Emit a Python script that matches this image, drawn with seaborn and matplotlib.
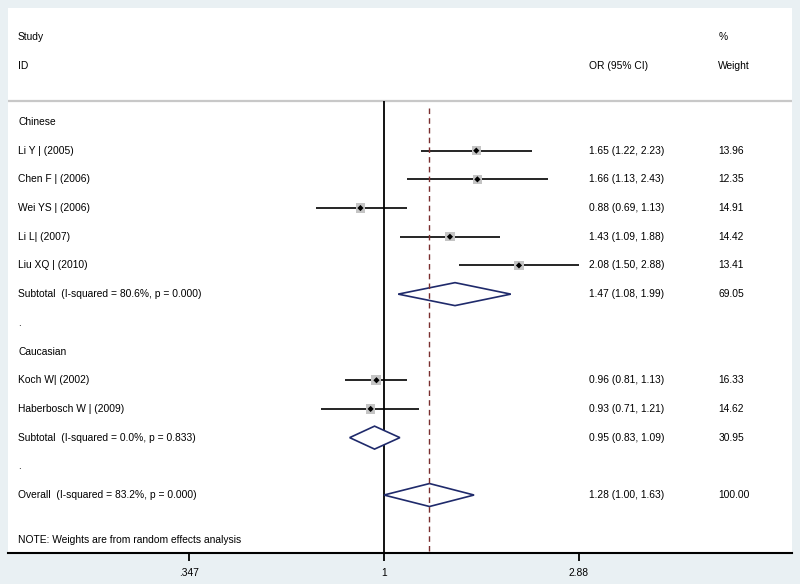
import numpy as np
import matplotlib
matplotlib.use("Agg")
import matplotlib.pyplot as plt
import matplotlib.transforms as mtransforms
import seaborn as sns

# Estudios individuales
estudios = ["Li Y | (2005)", "Chen F | (2006)", "Wei YS | (2006)", "Li L| (2007)",
            "Liu XQ | (2010)", "Koch W| (2002)", "Haberbosch W | (2009)"]
grupo_est = ["Chinese"] * 5 + ["Caucasian"] * 2
or_est = [1.65, 1.66, 0.88, 1.43, 2.08, 0.96, 0.93]
li_est = [1.22, 1.13, 0.69, 1.09, 1.50, 0.81, 0.71]
ls_est = [2.23, 2.43, 1.13, 1.88, 2.88, 1.13, 1.21]
peso_est = [13.96, 12.35, 14.91, 14.42, 13.41, 16.33, 14.62]

# Subtotales y global
grupos = ["Chinese", "Caucasian"]
resumen = ["Subtotal  (I-squared = 80.6%, p = 0.000)",
           "Subtotal  (I-squared = 0.0%, p = 0.833)",
           "Overall  (I-squared = 83.2%, p = 0.000)"]
or_res = [1.47, 0.95, 1.28]
li_res = [1.08, 0.83, 1.00]
ls_res = [1.99, 1.09, 1.63]
peso_res = [69.05, 30.95, 100.00]

nota = "NOTE: Weights are from random effects analysis"
ticks = [0.347, 1, 2.88]
tick_labels = [".347", "1", "2.88"]

# Orden de filas (estilo metan de Stata)
filas_est = []
filas_res = []
etiquetas = []   # (fila, texto)
k = 0
for g in grupos:
    etiquetas.append((k, g)); k += 1
    for gg in grupo_est:
        if gg == g:
            filas_est.append(k); k += 1
    filas_res.append(k); k += 1
    etiquetas.append((k, ".")); k += 1
filas_res.append(k)
fila_nota = k + 1.56
y_abajo = k + 2.02
y_arriba = -3.97
y_sep = -0.73

sns.set_style("white")
plt.rcParams['font.family'] = ['Liberation Sans', 'DejaVu Sans']
plt.rcParams['text.color'] = 'black'
plt.rcParams['xtick.color'] = 'black'

fig = plt.figure(figsize=(8, 5.84), dpi=100)
fig.patch.set_facecolor('#e9f0f3')
ax = fig.add_axes([8 / 800, 31 / 584, 784 / 800, 545 / 584])
ax.set_facecolor('white')
ax.set_xscale('log')
esc = 390 / (np.log(2.88) - np.log(0.347))
ax.set_xlim(np.exp((8 - 384) / esc), np.exp((792 - 384) / esc))
ax.set_ylim(y_abajo, y_arriba)

fs = 7.4
trans = mtransforms.blended_transform_factory(ax.transAxes, ax.transData)

# cabecera
ax.text(0.0128, -2.96, "Study", transform=trans, fontsize=fs, va='center')
ax.text(0.0128, -1.95, "ID", transform=trans, fontsize=fs, va='center')
ax.text(0.741, -1.95, "OR (95% CI)", transform=trans, fontsize=fs, va='center')
ax.text(0.906, -2.96, "%", transform=trans, fontsize=fs, va='center')
ax.text(0.906, -1.95, "Weight", transform=trans, fontsize=fs, va='center')
ax.axhline(y_sep, color='#c8c8c8', lw=1.6, zorder=1)

# lineas de referencia
ax.vlines(1, y_sep, y_abajo, color='black', lw=1.3, zorder=2)
ax.vlines(or_res[2], y_sep + 0.25, y_abajo, color='#7a2e2e', lw=1.0,
          linestyles=(0, (4, 3)), zorder=6)

# intervalos de estudios
ax.hlines(filas_est, li_est, ls_est, color='black', lw=1.2, zorder=3)
sns.scatterplot(x=or_est, y=filas_est, size=peso_est,
                sizes={w: 3.2 * w for w in peso_est}, marker='s',
                color='#c4c4c4', edgecolor='none', legend=False, ax=ax, zorder=4)
sns.scatterplot(x=or_est, y=filas_est, marker='D', s=10, color='black',
                edgecolor='none', legend=False, ax=ax, zorder=5)

# diamantes
h = 0.4
for r, o, l, u in zip(filas_res, or_res, li_res, ls_res):
    ax.fill([l, o, u, o, l], [r, r - h, r, r + h, r], facecolor='white',
            edgecolor='#1f2a6b', lw=1.2, zorder=4)

# columnas de texto
for r, t in etiquetas:
    ax.text(0.0128, r, t, transform=trans, fontsize=fs, va='center')
for r, t, o, l, u, w in zip(filas_est, estudios, or_est, li_est, ls_est, peso_est):
    ax.text(0.0128, r, t, transform=trans, fontsize=fs, va='center')
    ax.text(0.741, r, f"{o:.2f} ({l:.2f}, {u:.2f})", transform=trans, fontsize=fs, va='center')
    ax.text(0.906, r, f"{w:.2f}", transform=trans, fontsize=fs, va='center')
for r, t, o, l, u, w in zip(filas_res, resumen, or_res, li_res, ls_res, peso_res):
    ax.text(0.0128, r, t, transform=trans, fontsize=fs, va='center')
    ax.text(0.741, r, f"{o:.2f} ({l:.2f}, {u:.2f})", transform=trans, fontsize=fs, va='center')
    ax.text(0.906, r, f"{w:.2f}", transform=trans, fontsize=fs, va='center')
ax.text(0.0128, fila_nota, nota, transform=trans, fontsize=fs, va='center')

# eje
for s in ['top', 'left', 'right']:
    ax.spines[s].set_visible(False)
ax.spines['bottom'].set_color('black')
ax.spines['bottom'].set_linewidth(1.5)
ax.set_yticks([])
ax.set_xticks(ticks)
ax.set_xticklabels(tick_labels)
ax.minorticks_off()
ax.tick_params(axis='x', bottom=True, length=6, width=1.3, color='black',
               labelcolor='black', labelsize=fs, pad=5)

fig.savefig("out.png", dpi=100, facecolor=fig.get_facecolor())
